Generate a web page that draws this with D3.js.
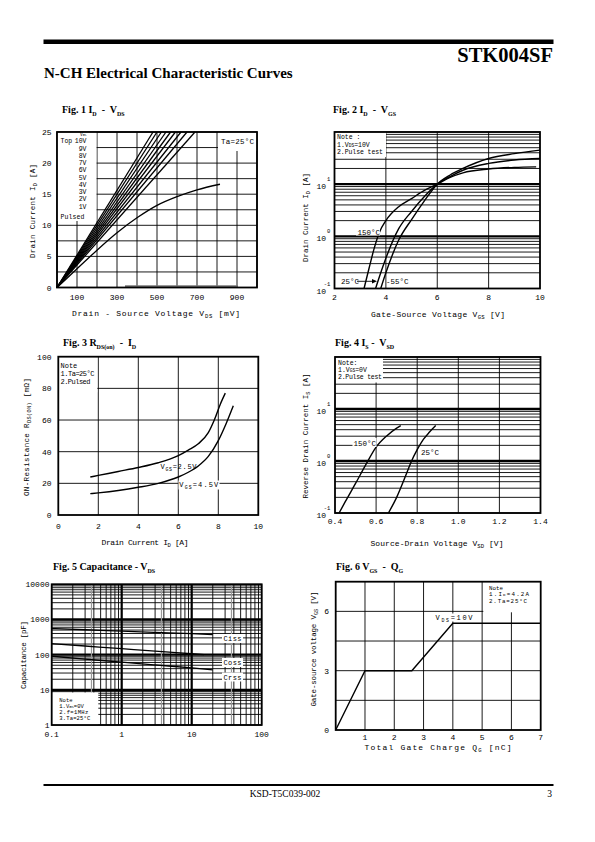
<!DOCTYPE html>
<html><head><meta charset="utf-8">
<script src="https://cdn.jsdelivr.net/npm/d3@7"></script>
<style>
html,body{margin:0;padding:0;background:#fff;}
svg{display:block;}
text{white-space:pre;}
</style></head><body>
<svg id="page" width="595" height="842"></svg>
<script>
// ================= DATA =================
// Fig. 1  ID - VDS
const fig1XTicks = [100, 300, 500, 700, 900];
const fig1YTicks = [0, 5, 10, 15, 20, 25];
const fig1XGrid = [0, 100, 200, 300, 400, 500, 600, 700, 800, 900, 1000];
const fig1YGrid = [0, 2.5, 5, 7.5, 10, 12.5, 15, 17.5, 20, 22.5, 25];
const fig1VgsLabels = ["10V", "9V", "8V", "7V", "6V", "5V", "4V", "3V", "2V", "1V"];
const fig1Curves = [
  [[0, 0], [480, 25]],
  [[0, 0], [500, 25]],
  [[0, 0], [522, 25]],
  [[0, 0], [545, 25]],
  [[0, 0], [568, 25]],
  [[0, 0], [592, 25]],
  [[0, 0], [620, 25]],
  [[0, 0], [650, 25]],
  [[0, 0], [690, 25]],
  [[0, 0], [100, 3], [200, 6], [300, 8.8], [400, 11.2], [500, 13.2], [600, 14.6], [700, 15.7], [815, 16.6]]
];

// Fig. 2  ID - VGS
const fig2XTicks = [2, 4, 6, 8, 10];
const fig2XGrid = [4, 6, 8];
const fig2YTickExp = [1, 0, -1];
const fig2Curve150 = [[3.15, 0.1], [3.35, 0.25], [3.55, 0.6], [3.75, 1.2], [4.0, 2.0], [4.5, 3.7], [5.0, 5.3], [5.5, 7.6], [6.0, 10], [6.5, 13.5], [7, 16.5], [8, 19.5], [9, 21], [9.85, 21.5]];
const fig2Curve25 = [[3.6, 0.1], [3.8, 0.2], [4.0, 0.38], [4.5, 1.4], [5.0, 3.0], [5.5, 5.8], [6.0, 10], [6.5, 14], [7, 18.5], [8, 25], [9, 29], [10, 31]];
const fig2CurveM55 = [[3.8, 0.1], [4.0, 0.2], [4.5, 0.85], [5.0, 2.1], [5.5, 4.8], [6.0, 10], [6.5, 15], [7, 20], [8, 31], [9, 38.5], [10, 45]];

// Fig. 3  RDS(on) - ID
const fig3XTicks = [0, 2, 4, 6, 8, 10];
const fig3YTicks = [0, 20, 40, 60, 80, 100];
const fig3XGrid = [2, 4, 6, 8];
const fig3YGrid = [20, 40, 60, 80];
const fig3Vgs25 = [[1.6, 24], [2, 25], [3, 27.5], [4, 30], [5, 33], [6, 37.5], [6.5, 41], [7, 45], [7.5, 52], [7.8, 60], [8.1, 70], [8.35, 77]];
const fig3Vgs45 = [[1.6, 13.5], [2, 14], [3, 15.5], [4, 17.5], [5, 20], [6, 24], [6.5, 27], [7, 31], [7.5, 37], [8, 47], [8.4, 58], [8.75, 69]];

// Fig. 4  IS - VSD
const fig4XTicks = [0.4, 0.6, 0.8, 1.0, 1.2, 1.4];
const fig4XGrid = [0.6, 0.8, 1.0, 1.2];
const fig4YTickExp = [1, 0, -1];
const fig4Curve150 = [[0.42, 0.1], [0.45, 0.165], [0.5, 0.37], [0.55, 0.85], [0.6, 1.85], [0.65, 3.0], [0.7, 4.3], [0.72, 4.8]];
const fig4Curve25 = [[0.66, 0.1], [0.7, 0.2], [0.75, 0.6], [0.77, 0.95], [0.8, 1.65], [0.83, 2.6], [0.86, 3.6], [0.89, 4.8]];

// Fig. 5  Capacitance - VDS
const fig5XTicks = [0.1, 1, 10, 100];
const fig5YTicks = [1, 10, 100, 1000, 10000];
const fig5GreyX = [0.37, 3.7, 37];
const fig5Ciss = [[0.1, 553], [0.3, 510], [1, 464], [3, 430], [10, 395], [20, 373]];
const fig5Coss = [[0.1, 206], [0.3, 176], [1, 148], [3, 126], [10, 106], [15, 100]];
const fig5Crss = [[0.1, 90], [0.3, 75], [1, 61], [3, 51], [10, 42], [20, 37]];
const fig5Names = ["Ciss", "Coss", "Crss"];

// Fig. 6  VGS - QG
const fig6XTicks = [1, 2, 3, 4, 5, 6, 7];
const fig6YTicks = [0, 3, 6];
const fig6XGrid = [1, 2, 3, 4, 5, 6];
const fig6YGrid = [1.5, 3, 4.5, 6];
const fig6Qg = [0, 1, 2.6, 4, 7];
const fig6Vgs = [0, 3, 3, 5.4, 5.4];

// ================= DRAWING =================
const MONO = '"Liberation Mono","DejaVu Sans Mono",monospace';
const SERIF = '"Liberation Serif","Times New Roman",serif';
const svg = d3.select("#page");

function txt(parent, x, y, parts, o) {
  o = o || {};
  const size = o.size || 8;
  const t = parent.append("text").attr("x", x).attr("y", y)
    .attr("font-family", o.family || MONO).attr("font-size", size)
    .attr("font-weight", o.weight || "normal").attr("fill", "#000")
    .attr("text-anchor", o.anchor || "start");
  if (o.ls) t.attr("letter-spacing", o.ls);
  if (o.len) t.attr("textLength", o.len).attr("lengthAdjust", "spacing");
  if (o.rot) t.attr("transform", `rotate(${o.rot},${x},${y})`);
  let shift = 0;
  const subShift = o.subShift !== undefined ? o.subShift : 0.3;
  (Array.isArray(parts) ? parts : [parts]).forEach(p => {
    const [s, kind] = Array.isArray(p) ? p : [p, null];
    const ts = t.append("tspan").text(s);
    const target = kind === "sub" ? size * subShift : kind === "sup" ? -size * 0.45 : 0;
    if (target !== shift) { ts.attr("dy", target - shift); shift = target; }
    if (kind) ts.attr("font-size", size * (o.subScale || 0.7));
  });
  return t;
}

function grid(g, x, y, gx, gy, thickX, thickY) {
  const [xa, xb] = x.range(), [yb, ya] = y.range();
  g.append("g").selectAll("line").data(gx).join("line")
    .attr("x1", d => x(d)).attr("x2", d => x(d)).attr("y1", ya).attr("y2", yb)
    .attr("stroke", "#000").attr("stroke-width", d => (thickX || []).includes(d) ? 2.2 : 0.9);
  g.append("g").selectAll("line").data(gy).join("line")
    .attr("y1", d => y(d)).attr("y2", d => y(d)).attr("x1", xa).attr("x2", xb)
    .attr("stroke", "#000").attr("stroke-width", d => (thickY || []).includes(d) ? 2.4 : 0.9);
}
function border(g, x, y) {
  const [xa, xb] = x.range(), [yb, ya] = y.range();
  g.append("rect").attr("x", xa).attr("y", ya).attr("width", xb - xa).attr("height", yb - ya)
    .attr("fill", "none").attr("stroke", "#000").attr("stroke-width", 1.8);
}
function whiteBox(g, x, y, w, h) {
  g.append("rect").attr("x", x).attr("y", y).attr("width", w).attr("height", h).attr("fill", "#fff");
}
function curve(g, x, y, pts, sw) {
  const line = d3.line().x(d => x(d[0])).y(d => y(d[1])).curve(d3.curveMonotoneX);
  g.append("path").datum(pts).attr("d", line).attr("fill", "none")
    .attr("stroke", "#000").attr("stroke-width", sw || 1.4).attr("stroke-linejoin", "round");
}
function title(x, y, parts) {
  txt(svg, x, y, parts, { family: SERIF, size: 10, weight: "bold", subScale: 0.6 });
}

// ---------- page header / footer ----------
svg.append("rect").attr("x", 43.5).attr("y", 39.5).attr("width", 510).attr("height", 4.5).attr("fill", "#000");
txt(svg, 553, 61.5, "STK004SF", { family: SERIF, size: 20.5, weight: "bold", anchor: "end" });
txt(svg, 44, 78, "N-CH Electrical Characteristic Curves", { family: SERIF, size: 15, weight: "bold" });
svg.append("rect").attr("x", 43.5).attr("y", 784).attr("width", 510).attr("height", 2).attr("fill", "#000");
txt(svg, 285, 797, "KSD-T5C039-002", { family: SERIF, size: 9.5, anchor: "middle" });
txt(svg, 552, 797, "3", { family: SERIF, size: 9.5, anchor: "end" });

// ---------- Fig 1 ----------
{
  const x = d3.scaleLinear().domain([0, 1000]).range([57, 257]);
  const y = d3.scaleLinear().domain([0, 25]).range([287.5, 132]);
  const g = svg.append("g");
  title(62, 113, ["Fig. 1 I", ["D", "sub"], "  -  V", ["DS", "sub"]]);
  grid(g, x, y, fig1XGrid, fig1YGrid);
  g.append("line").attr("x1", 125).attr("x2", 238).attr("y1", 286.3).attr("y2", 286.3)
    .attr("stroke", "#777").attr("stroke-width", 2.2);
  whiteBox(g, 57, 132, 39.5, 89);
  whiteBox(g, 218, 132, 39, 19);
  fig1Curves.forEach(c => curve(g, x, y, c, 1.3));
  txt(g, 80, 135.8, ["V", ["GS", "sub"]], { size: 4.5, subShift: 0.1 });
  txt(g, 60.5, 143.3, "Top", { size: 6.5 });
  g.append("g").selectAll("text").data(fig1VgsLabels).join("text")
    .attr("x", 86.5).attr("y", (d, i) => 143.3 + i * 7.25).attr("text-anchor", "end")
    .attr("font-family", MONO).attr("font-size", 6.5).text(d => d);
  txt(g, 60.5, 219, "Pulsed", { size: 6.5, len: 24 });
  txt(g, 221, 144, "Ta=25°C", { size: 7.5, len: 33 });
  border(g, x, y);
  g.append("g").selectAll("text").data(fig1XTicks).join("text")
    .attr("x", d => x(d)).attr("y", 299.5).attr("text-anchor", "middle")
    .attr("font-family", MONO).attr("font-size", 8).text(d => d);
  g.append("g").selectAll("text").data(fig1YTicks).join("text")
    .attr("x", 51.5).attr("y", d => y(d) + 3).attr("text-anchor", "end")
    .attr("font-family", MONO).attr("font-size", 8).text(d => d);
  txt(g, 156, 316, ["Drain - Source Voltage V", ["DS", "sub"], " [mV]"], { size: 8, anchor: "middle", len: 168 });
  txt(g, 35, 211, ["Drain Current I", ["D", "sub"], " [A]"], { size: 7.5, anchor: "middle", len: 94, rot: -90 });
}

// ---------- Fig 2 ----------
{
  const x = d3.scaleLinear().domain([2, 10]).range([334.5, 540]);
  const y = d3.scaleLog().domain([0.1, 100]).range([288.5, 132]);
  const g = svg.append("g");
  title(333, 113, ["Fig. 2 I", ["D", "sub"], "  -  V", ["GS", "sub"]]);
  grid(g, x, y, fig2XGrid, y.ticks(), [], [1, 10]);
  whiteBox(g, 334.5, 132, 51.5, 25);
  txt(g, 337, 139, "Note :", { size: 6.5 });
  txt(g, 337, 146.5, ["1.V", ["DS", "sub"], "=10V"], { size: 6.5, subShift: 0.15 });
  txt(g, 337, 154, "2.Pulse test", { size: 6.5, len: 46 });
  curve(g, x, y, fig2Curve150);
  curve(g, x, y, fig2Curve25);
  curve(g, x, y, fig2CurveM55);
  whiteBox(g, 356, 226.5, 24, 9);
  txt(g, 357.5, 234.5, "150°C", { size: 7.5 });
  txt(g, 341, 284, "25°C", { size: 7.5 });
  g.append("line").attr("x1", 357).attr("x2", 373).attr("y1", 281.3).attr("y2", 281.3).attr("stroke", "#000").attr("stroke-width", 0.9);
  g.append("path").attr("d", "M372,279 L377,281.3 L372,283.6 Z").attr("fill", "#000");
  txt(g, 386, 284, "-55°C", { size: 7.5 });
  border(g, x, y);
  g.append("g").selectAll("text").data(fig2XTicks).join("text")
    .attr("x", d => x(d)).attr("y", 299.5).attr("text-anchor", "middle")
    .attr("font-family", MONO).attr("font-size", 8).text(d => d);
  fig2YTickExp.forEach(e => {
    const v = Math.pow(10, e);
    txt(g, 326, y(v) + 5, "10", { size: 8, anchor: "end" });
    txt(g, 327, y(v) - 3, String(e), { size: 5.5, anchor: e < 0 ? "middle" : "start" });
  });
  txt(g, 438, 316.5, ["Gate-Source Voltage V", ["GS", "sub"], " [V]"], { size: 8, anchor: "middle", len: 134 });
  txt(g, 308, 217.5, ["Drain Current I", ["D", "sub"], " [A]"], { size: 7.5, anchor: "middle", len: 89, rot: -90 });
}

// ---------- Fig 3 ----------
{
  const x = d3.scaleLinear().domain([0, 10]).range([58.3, 258.3]);
  const y = d3.scaleLinear().domain([0, 100]).range([515, 356.7]);
  const g = svg.append("g");
  title(63, 346, ["Fig. 3 R", ["DS(on)", "sub"], "  -  I", ["D", "sub"]]);
  grid(g, x, y, fig3XGrid, fig3YGrid);
  whiteBox(g, 58.3, 356.7, 39, 35.6);
  txt(g, 60.5, 367.5, "Note", { size: 7 });
  txt(g, 60.5, 376, "1.Ta=25°C", { size: 7, len: 34 });
  txt(g, 60.5, 384, "2.Pulsed", { size: 7, len: 30 });
  curve(g, x, y, fig3Vgs25);
  curve(g, x, y, fig3Vgs45);
  txt(g, 160.5, 469, ["V", ["GS", "sub"], "=2.5V"], { size: 7, len: 36 });
  whiteBox(g, 178.5, 480.5, 41, 9);
  txt(g, 179.3, 486.5, ["V", ["GS", "sub"], "=4.5V"], { size: 7, len: 39 });
  border(g, x, y);
  g.append("g").selectAll("text").data(fig3XTicks).join("text")
    .attr("x", d => x(d)).attr("y", 529).attr("text-anchor", "middle")
    .attr("font-family", MONO).attr("font-size", 8).text(d => d);
  g.append("g").selectAll("text").data(fig3YTicks).join("text")
    .attr("x", 51.5).attr("y", d => y(d) + 3).attr("text-anchor", "end")
    .attr("font-family", MONO).attr("font-size", 8).text(d => d);
  txt(g, 145, 545, ["Drain Current I", ["D", "sub"], " [A]"], { size: 8, anchor: "middle", len: 87 });
  txt(g, 29, 437, ["ON-Resistance R", ["DS(ON)", "sub"], " [mΩ]"], { size: 7.5, anchor: "middle", len: 118, rot: -90 });
}

// ---------- Fig 4 ----------
{
  const x = d3.scaleLinear().domain([0.4, 1.4]).range([335, 540.5]);
  const y = d3.scaleLog().domain([0.1, 100]).range([513, 357]);
  const g = svg.append("g");
  title(335, 346, ["Fig. 4 I", ["S", "sub"], " -  V", ["SD", "sub"]]);
  grid(g, x, y, fig4XGrid, y.ticks(), [], [1, 10]);
  whiteBox(g, 335, 357, 48, 25.5);
  txt(g, 338, 364.5, "Note:", { size: 6.5 });
  txt(g, 338, 371.5, ["1.V", ["GS", "sub"], "=0V"], { size: 6.5, subShift: 0.15 });
  txt(g, 338, 379, "2.Pulse test", { size: 6.5, len: 44 });
  curve(g, x, y, fig4Curve150);
  curve(g, x, y, fig4Curve25);
  whiteBox(g, 352.5, 438, 24, 9);
  txt(g, 353.5, 446, "150°C", { size: 7.5 });
  txt(g, 421, 454.5, "25°C", { size: 7.5 });
  border(g, x, y);
  g.append("g").selectAll("text").data(fig4XTicks).join("text")
    .attr("x", d => x(d)).attr("y", 524).attr("text-anchor", "middle")
    .attr("font-family", MONO).attr("font-size", 8).text(d => d.toFixed(1));
  fig4YTickExp.forEach(e => {
    const v = Math.pow(10, e);
    txt(g, 326, y(v) + 5, "10", { size: 8, anchor: "end" });
    txt(g, 327, y(v) - 3, String(e), { size: 5.5, anchor: e < 0 ? "middle" : "start" });
  });
  txt(g, 437, 546, ["Source-Drain Voltage V", ["SD", "sub"], " [V]"], { size: 8, anchor: "middle", len: 133 });
  txt(g, 308, 436, ["Reverse Drain Current I", ["S", "sub"], " [A]"], { size: 7.5, anchor: "middle", len: 125, rot: -90 });
}

// ---------- Fig 5 ----------
{
  const x = d3.scaleLog().domain([0.1, 100]).range([51.7, 261.7]);
  const y = d3.scaleLog().domain([1, 10000]).range([725, 584.3]);
  const g = svg.append("g");
  title(53, 570, ["Fig. 5 Capacitance - V", ["DS", "sub"]]);
  grid(g, x, y, x.ticks(), y.ticks(), [1, 10], [10, 100, 1000]);
  g.append("g").selectAll("line").data(fig5GreyX).join("line")
    .attr("x1", d => x(d)).attr("x2", d => x(d)).attr("y1", 584.3).attr("y2", 725)
    .attr("stroke", "#999").attr("stroke-width", 1.2);
  whiteBox(g, 51.7, 692.5, 46.6, 32.5);
  txt(g, 59.3, 701.5, "Note", { size: 5.5 });
  txt(g, 59.3, 707.8, ["1.V", ["GS", "sub"], "=0V"], { size: 5.5, subShift: 0.05 });
  txt(g, 59.3, 714.1, "2.f=1MHz", { size: 5.5, len: 29 });
  txt(g, 59.3, 720.4, "3.Ta=25°C", { size: 5.5, len: 31 });
  [fig5Ciss, fig5Coss, fig5Crss].forEach(c => curve(g, x, y, c, 1.3));
  [[634, 641], [658, 665], [672.5, 679.5]].forEach((p, i) => {
    whiteBox(g, 222, p[0], 21, 9);
    txt(g, 223.5, p[1], fig5Names[i], { size: 7, len: 18 });
  });
  border(g, x, y);
  g.append("g").selectAll("text").data(fig5XTicks).join("text")
    .attr("x", d => x(d)).attr("y", 737).attr("text-anchor", "middle")
    .attr("font-family", MONO).attr("font-size", 8).text(d => d);
  g.append("g").selectAll("text").data(fig5YTicks).join("text")
    .attr("x", 49.5).attr("y", d => y(d) + 3).attr("text-anchor", "end")
    .attr("font-family", MONO).attr("font-size", 8).text(d => d);
  txt(g, 25.5, 655, "Capacitance [pF]", { size: 7.5, anchor: "middle", len: 68, rot: -90 });
}

// ---------- Fig 6 ----------
{
  const x = d3.scaleLinear().domain([0, 7]).range([335.7, 540.7]);
  const y = d3.scaleLinear().domain([0, 7.5]).range([730, 581.7]);
  const g = svg.append("g");
  title(336, 570, ["Fig. 6 V", ["GS", "sub"], "  -  Q", ["G", "sub"]]);
  grid(g, x, y, fig6XGrid, fig6YGrid);
  whiteBox(g, 483.3, 581.7, 57.4, 30.6);
  txt(g, 489, 589.5, "Note", { size: 5.8 });
  txt(g, 489, 596, ["1.I", ["D", "sub"], "=4.2A"], { size: 5.8, len: 40, subShift: 0.05 });
  txt(g, 489, 602.5, "2.Ta=25°C", { size: 5.8, len: 38 });
  const line = d3.line().x((d, i) => x(fig6Qg[i])).y((d, i) => y(fig6Vgs[i]));
  g.append("path").datum(fig6Qg).attr("d", line).attr("fill", "none")
    .attr("stroke", "#000").attr("stroke-width", 1.4);
  whiteBox(g, 434, 613.5, 40, 8);
  txt(g, 435.5, 619.5, ["V", ["DS", "sub"], "=10V"], { size: 7, len: 37 });
  border(g, x, y);
  g.append("g").selectAll("text").data(fig6XTicks).join("text")
    .attr("x", d => x(d)).attr("y", 740).attr("text-anchor", "middle")
    .attr("font-family", MONO).attr("font-size", 8).text(d => d);
  g.append("g").selectAll("text").data(fig6YTicks).join("text")
    .attr("x", 329).attr("y", d => y(d) + 3).attr("text-anchor", "end")
    .attr("font-family", MONO).attr("font-size", 8).text(d => d);
  txt(g, 438, 750, ["Total Gate Charge Q", ["G", "sub"], " [nC]"], { size: 8, anchor: "middle", len: 147 });
  txt(g, 316, 649, ["Gate-source voltage V", ["GS", "sub"], " [V]"], { size: 7.5, anchor: "middle", len: 115, rot: -90 });
}
</script>
</body></html>
